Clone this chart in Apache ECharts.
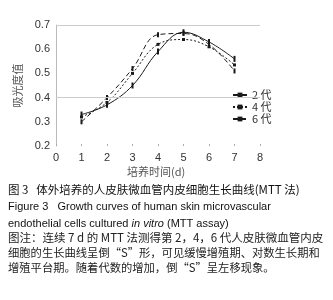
<!DOCTYPE html>
<html>
<head>
<meta charset="utf-8">
<script src="https://cdn.jsdelivr.net/npm/echarts@6/dist/echarts.min.js"></script>
<style>
html,body{margin:0;padding:0;background:#fff;}
#chart{width:333px;height:300px;}
</style>
</head>
<body>
<div id="chart"></div>
<script>
// days of culture
var days = [1, 2, 3, 4, 5, 6, 7];
// absorbance per passage
var p2 = [0.33, 0.37, 0.45, 0.59, 0.67, 0.63, 0.56];
var p4 = [0.32, 0.38, 0.50, 0.62, 0.64, 0.61, 0.535];
var p6 = [0.30, 0.40, 0.52, 0.66, 0.665, 0.62, 0.51];
var seriesNames = ['2 代', '4 代', '6 代'];
var gridValues = [0.4, 0.7];

function pairs(vals){
	var out = [];
	for(var i=0;i<days.length;i++){
		out.push([days[i], vals[i]]);
	}
	return out;
}

var myChart = echarts.init(document.getElementById('chart'));
var lineCol = '#1a1a1a';
var fontEn = 'Liberation Sans, Arial, sans-serif';
var fontCn = 'Noto Sans CJK SC, sans-serif';

var markData = [];
for(var i=0;i<gridValues.length;i++){
	markData.push({yAxis: gridValues[i]});
}

var option = {
	animation: false,
	grid: {left: 56, right: 73, top: 25, bottom: 154},
	legend: {
		orient: 'vertical',
		left: 228,
		top: 87,
		itemWidth: 14,
		itemHeight: 6,
		itemGap: 0,
		backgroundColor: '#fff',
		padding: [2, 4, 2, 4],
		textStyle: {fontSize: 11, color: '#333', fontFamily: fontCn, lineHeight: 12},
		data: seriesNames
	},
	xAxis: {
		type: 'value',
		min: 0, max: 8, interval: 1,
		axisLine: {show: false},
		axisTick: {show: true, length: 2, inside: true, lineStyle: {color: '#aaa'}},
		axisLabel: {fontSize: 11, color: '#333', margin: 6, fontFamily: fontEn},
		splitLine: {show: false}
	},
	yAxis: {
		type: 'value',
		min: 0.2, max: 0.7, interval: 0.1,
		name: '吸光度值',
		nameLocation: 'middle',
		nameGap: 31,
		nameTextStyle: {fontSize: 11, color: '#555', fontFamily: fontCn},
		axisLine: {show: true, lineStyle: {color: '#bbb'}},
		axisTick: {show: false},
		axisLabel: {fontSize: 11, color: '#333', margin: 6, fontFamily: fontEn,
			formatter: function(v){ return v.toFixed(1); }},
		splitLine: {show: false}
	},
	series: [
		{
			name: seriesNames[0],
			type: 'line',
			smooth: 0.4,
			data: pairs(p2),
			symbol: 'rect',
			symbolSize: [2, 6],
			itemStyle: {color: lineCol},
			lineStyle: {color: lineCol, width: 1, type: 'solid'},
			markLine: {
				silent: true,
				symbol: 'none',
				label: {show: false},
				lineStyle: {color: '#ccc', width: 1, type: 'solid'},
				data: markData
			}
		},
		{
			name: seriesNames[1],
			type: 'line',
			smooth: 0.4,
			data: pairs(p4),
			symbol: 'rect',
			symbolSize: [3, 3],
			itemStyle: {color: lineCol},
			lineStyle: {color: lineCol, width: 1, type: [2, 2]}
		},
		{
			name: seriesNames[2],
			type: 'line',
			smooth: 0.4,
			data: pairs(p6),
			symbol: 'rect',
			symbolSize: [2, 5],
			itemStyle: {color: lineCol},
			lineStyle: {color: lineCol, width: 1, type: [5, 3]}
		}
	],
	graphic: [
		{type: 'text', left: 127, top: 166, style: {
			text: '培养时间(d)',
			font: '11px ' + fontCn, fill: '#555'}},
		{type: 'text', left: 8, top: 184, style: {
			text: '图 3   体外培养的人皮肤微血管内皮细胞生长曲线(MTT 法)',
			font: '11.5px ' + fontCn, fill: '#111'}},
		{type: 'text', left: 8, top: 201, style: {
			text: 'Figure 3   Growth curves of human skin microvascular',
			font: '11px ' + fontEn, fill: '#111'}},
		{type: 'text', left: 8, top: 218, style: {
			text: '{a|endothelial cells cultured }{b|in vitro}{a| (MTT assay)}',
			rich: {
				a: {font: '11px ' + fontEn, fill: '#111'},
				b: {font: 'italic 11px ' + fontEn, fill: '#111'}
			}}},
		{type: 'text', left: 8, top: 232, style: {
			text: '图注：连续 7 d 的 MTT 法测得第 2，4，6 代人皮肤微血管内皮',
			font: '11.5px ' + fontCn, fill: '#222'}},
		{type: 'text', left: 8, top: 247, style: {
			text: '细胞的生长曲线呈倒“S”形，可见缓慢增殖期、对数生长期和',
			font: '11.3px ' + fontCn, fill: '#222'}},
		{type: 'text', left: 8, top: 262, style: {
			text: '增殖平台期。随着代数的增加，倒“S”呈左移现象。',
			font: '11.3px ' + fontCn, fill: '#222'}}
	]
};
myChart.setOption(option);
</script>
</body>
</html>
